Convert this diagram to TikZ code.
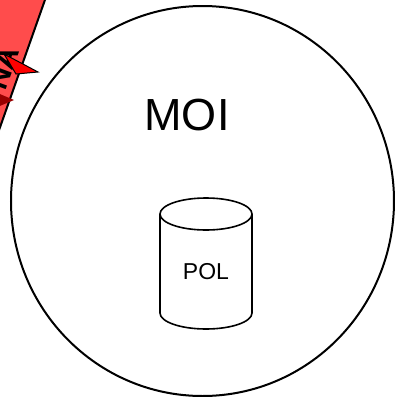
\documentclass[tikz,border=0pt]{standalone}
\usepackage{fontspec}
\setmainfont{Liberation Sans}
\usetikzlibrary{shapes.geometric}
\begin{document}
\begin{tikzpicture}[x=1pt,y=-1pt,
bigcircle/.style={
% The shape:
ellipse,
draw=black,
line width=2pt,
inner sep=0pt,
minimum width=383pt,
minimum height=390pt
},
store/.style={
draw=black,
line width=1.6pt
},
band/.style={
fill=red!70,
draw=black,
line width=2pt
}
]
\useasboundingbox (0,0) rectangle (395,397);
% red band in the corner
\filldraw[band] (-40,-20) -- (52,-20) -- (-8,150) -- (-60,150) -- cycle;
\fill[red!60!black] (-5,92) -- (14,100) -- (-5,108) -- cycle;
\node (tag) [rotate=70,font=\bfseries\fontsize{30}{30}\selectfont] at (3,68) {NA};
\filldraw[fill=red,draw=black,line width=1pt] (4,54) -- (38,72) -- (16,74) -- cycle;
% main parts
\node (moi) [bigcircle] at (202.5,201) {};
\node (moilabel) [font=\fontsize{45}{45}\selectfont] at (187,115) {MOI};
% cylinder
\draw[store] (160,214) -- (160,313) arc (180:0:46 and 16) -- (252,214);
\draw[store] (206,214) ellipse (46 and 16);
\node (pol) [font=\fontsize{23}{23}\selectfont] at (206,272) {POL};
\end{tikzpicture}
\end{document}
